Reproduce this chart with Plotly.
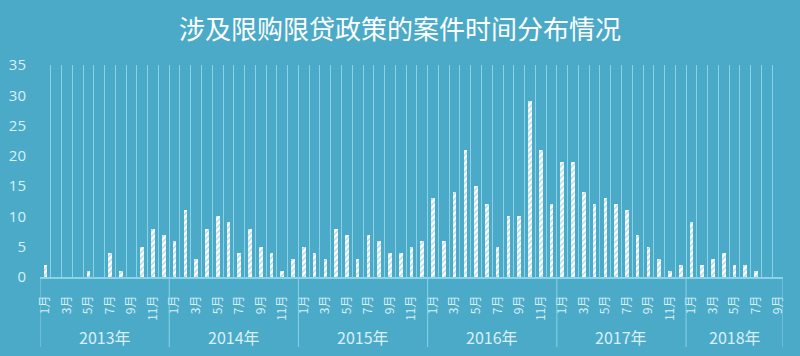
import plotly.graph_objects as go

years = ["2013年", "2014年", "2015年", "2016年", "2017年", "2018年"]
months_per_year = [12, 12, 12, 12, 12, 9]
month_names = ["1月", "2月", "3月", "4月", "5月", "6月", "7月", "8月", "9月", "10月", "11月", "12月"]

cases_2013 = [2, 0, 0, 0, 1, 0, 4, 1, 0, 5, 8, 7]
cases_2014 = [6, 11, 3, 8, 10, 9, 4, 8, 5, 4, 1, 3]
cases_2015 = [5, 4, 3, 8, 7, 3, 7, 6, 4, 4, 5, 6]
cases_2016 = [13, 6, 14, 21, 15, 12, 5, 10, 10, 29, 21, 12]
cases_2017 = [19, 19, 14, 12, 13, 12, 11, 7, 5, 3, 1, 2]
cases_2018 = [9, 2, 3, 4, 2, 2, 1, 0, 0]

values = cases_2013 + cases_2014 + cases_2015 + cases_2016 + cases_2017 + cases_2018
labels = []
for n in months_per_year:
    labels += month_names[:n]
xs = list(range(len(values)))

BG = "#4BAAC8"
LIGHT = "#d9f0f7"
GRID = "#8ad2e6"

fig = go.Figure()
fig.add_trace(go.Bar(
    x=xs, y=values, width=0.34,
    marker=dict(color="white", line=dict(width=0),
                pattern=dict(shape="/", fillmode="overlay", bgcolor="white",
                             fgcolor=BG, size=4, solidity=0.3)),
    hoverinfo="y",
))

tickvals = [i for i in xs if labels[i] in ("1月", "3月", "5月", "7月", "9月", "11月")]
ticktext = [labels[i] for i in tickvals]

fig.update_layout(
    width=800, height=356,
    paper_bgcolor=BG, plot_bgcolor=BG,
    margin=dict(l=40, r=17, t=65, b=79, autoexpand=False),
    showlegend=False,
    font=dict(family="Noto Sans CJK SC, Noto Sans, sans-serif", color=LIGHT),
    title=dict(text="涉及限购限贷政策的案件时间分布情况", x=0.5, xanchor="center",
               y=1 - 30 / 356, yref="container", yanchor="middle",
               font=dict(size=26, color="white")),
    bargap=0,
)
fig.update_xaxes(
    range=[-0.5, len(values) - 0.5], automargin=False,
    tickvals=tickvals, ticktext=ticktext, tickangle=-90,
    tickfont=dict(size=12, color=LIGHT), ticks="", ticklabelstandoff=12,
    showgrid=False, zeroline=False,
    showline=True, linecolor="#8ad4ea", linewidth=1.5,
    minor=dict(tick0=-0.5, dtick=1, showgrid=True, gridcolor=GRID, gridwidth=1, ticks=""),
)
fig.update_yaxes(
    range=[0, 35], dtick=5, showgrid=False, zeroline=False, automargin=False,
    tickfont=dict(size=15, color=LIGHT, family="Open Sans, sans-serif"),
    ticks="", ticklabelstandoff=13,
)

# year separators and labels
start = -0.5
for yr, n in zip(years, months_per_year):
    fig.add_shape(type="line", xref="x", yref="paper", x0=start, x1=start,
                  y0=0, y1=-70 / 212, line=dict(color=GRID, width=1))
    fig.add_annotation(x=start + n / 2, xref="x", y=-60 / 212, yref="paper",
                       text=yr, showarrow=False, yanchor="middle",
                       font=dict(size=16, color=LIGHT))
    start += n
fig.add_shape(type="line", xref="x", yref="paper", x0=start, x1=start,
              y0=0, y1=-70 / 212, line=dict(color=GRID, width=1))

fig.write_html("out.html", config={"displayModeBar": False},
               post_script="document.body.style.margin='0px';")
